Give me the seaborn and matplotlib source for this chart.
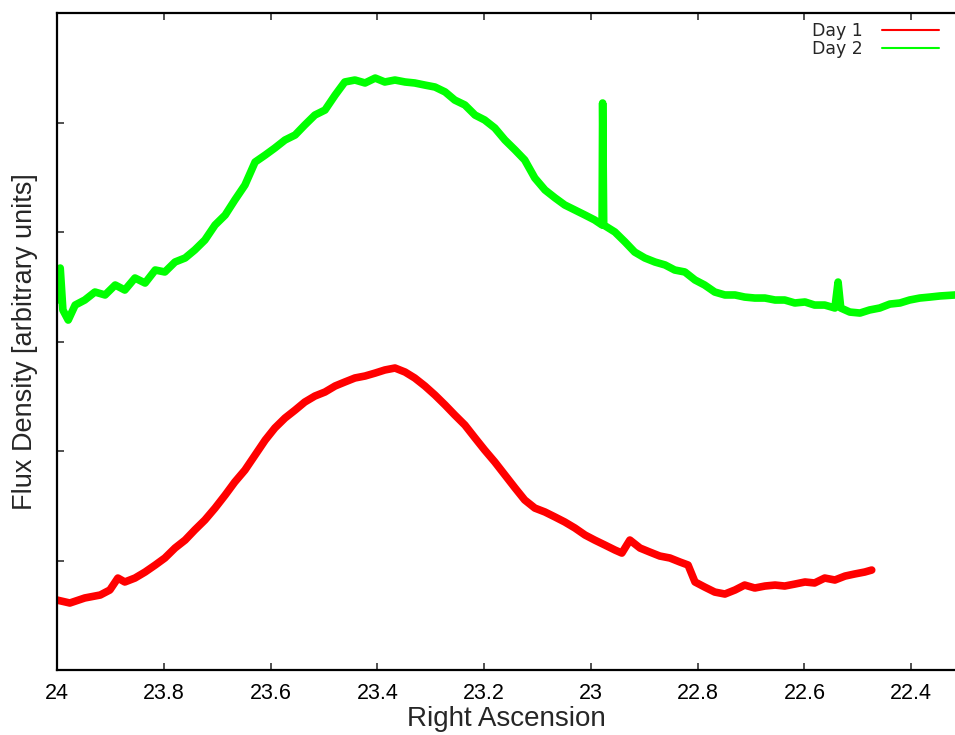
import pandas as pd
import matplotlib.pyplot as plt
import seaborn as sns

# ==========================================
# DATA (arbitrary units 0..6)
# ==========================================

ra_day1 = [24.000, 23.976, 23.948, 23.919, 23.901, 23.886, 23.873, 23.854, 23.835, 23.816,
           23.798, 23.779, 23.760, 23.742, 23.723, 23.704, 23.685, 23.667, 23.648, 23.629,
           23.610, 23.592, 23.573, 23.554, 23.536, 23.517, 23.498, 23.479, 23.461, 23.442,
           23.423, 23.404, 23.386, 23.367, 23.348, 23.330, 23.311, 23.292, 23.273, 23.255,
           23.236, 23.217, 23.199, 23.180, 23.161, 23.142, 23.124, 23.105, 23.086, 23.067,
           23.049, 23.030, 23.011, 22.993, 22.974, 22.955, 22.942, 22.927, 22.908, 22.890,
           22.871, 22.852, 22.833, 22.818, 22.805, 22.787, 22.768, 22.749, 22.730, 22.712,
           22.693, 22.674, 22.655, 22.637, 22.618, 22.599, 22.581, 22.562, 22.543, 22.524,
           22.506, 22.487, 22.474]
flux_day1 = [0.639, 0.612, 0.658, 0.685, 0.731, 0.840, 0.804, 0.840, 0.895, 0.959,
             1.023, 1.114, 1.187, 1.279, 1.370, 1.479, 1.598, 1.717, 1.826, 1.963,
             2.100, 2.210, 2.301, 2.374, 2.447, 2.502, 2.539, 2.594, 2.630, 2.667,
             2.685, 2.712, 2.740, 2.758, 2.721, 2.667, 2.594, 2.511, 2.420, 2.329,
             2.237, 2.119, 2.009, 1.900, 1.781, 1.662, 1.553, 1.479, 1.443, 1.397,
             1.352, 1.297, 1.233, 1.187, 1.142, 1.096, 1.068, 1.187, 1.114, 1.078,
             1.041, 1.023, 0.986, 0.959, 0.804, 0.758, 0.712, 0.694, 0.731, 0.776,
             0.749, 0.767, 0.776, 0.767, 0.785, 0.804, 0.795, 0.840, 0.822, 0.858,
             0.877, 0.895, 0.913]

ra_day2 = [24.000, 23.994, 23.989, 23.979, 23.966, 23.948, 23.929, 23.910, 23.891, 23.873,
           23.854, 23.835, 23.816, 23.798, 23.779, 23.760, 23.742, 23.723, 23.704, 23.685,
           23.667, 23.648, 23.629, 23.610, 23.592, 23.573, 23.554, 23.536, 23.517, 23.498,
           23.479, 23.461, 23.442, 23.423, 23.404, 23.386, 23.367, 23.348, 23.330, 23.311,
           23.292, 23.273, 23.255, 23.236, 23.217, 23.199, 23.180, 23.161, 23.142, 23.124,
           23.105, 23.086, 23.067, 23.049, 23.030, 23.011, 22.993, 22.979, 22.978, 22.976,
           22.955, 22.936, 22.918, 22.899, 22.880, 22.861, 22.843, 22.824, 22.805, 22.787,
           22.768, 22.749, 22.730, 22.712, 22.693, 22.674, 22.655, 22.637, 22.618, 22.599,
           22.581, 22.562, 22.543, 22.537, 22.532, 22.515, 22.496, 22.478, 22.459, 22.440,
           22.421, 22.403, 22.384, 22.365, 22.346, 22.318]
flux_day2 = [3.379, 3.671, 3.288, 3.196, 3.333, 3.379, 3.452, 3.425, 3.516, 3.470,
             3.580, 3.534, 3.653, 3.635, 3.726, 3.763, 3.836, 3.927, 4.064, 4.155,
             4.292, 4.429, 4.639, 4.703, 4.767, 4.840, 4.886, 4.977, 5.068, 5.114,
             5.251, 5.370, 5.388, 5.361, 5.406, 5.370, 5.388, 5.370, 5.361, 5.342,
             5.324, 5.279, 5.205, 5.160, 5.068, 5.023, 4.950, 4.840, 4.749, 4.658,
             4.493, 4.384, 4.311, 4.247, 4.201, 4.155, 4.110, 4.064, 5.178, 4.064,
             4.000, 3.909, 3.817, 3.763, 3.726, 3.699, 3.653, 3.635, 3.562, 3.516,
             3.452, 3.425, 3.425, 3.406, 3.397, 3.397, 3.379, 3.379, 3.352, 3.361,
             3.333, 3.333, 3.306, 3.543, 3.306, 3.269, 3.260, 3.288, 3.306, 3.342,
             3.352, 3.379, 3.397, 3.406, 3.416, 3.425]

series_labels = ["Day 1", "Day 2"]
series_colors = ["#ff0000", "#00ff00"]

df = pd.concat([
    pd.DataFrame({"ra": ra_day1, "flux": flux_day1, "day": "Day 1"}),
    pd.DataFrame({"ra": ra_day2, "flux": flux_day2, "day": "Day 2"}),
], ignore_index=True)

# ==========================================
# PLOT
# ==========================================

sns.set_style("ticks")
plt.rcParams["font.family"] = ["Liberation Sans", "DejaVu Sans"]

fig = plt.figure(figsize=(9.55, 7.35), dpi=100)
ax = fig.add_axes([0.0597, 0.0884, 0.9403, 0.8939])

sns.lineplot(data=df, x="ra", y="flux", hue="day", palette=series_colors,
             hue_order=series_labels, sort=False, estimator=None,
             linewidth=5.5, ax=ax, legend=False)

ax.set_xlim(24, 22.318)
ax.set_ylim(0, 6)
ax.set_xticks([24, 23.8, 23.6, 23.4, 23.2, 23, 22.8, 22.6, 22.4])
ax.set_xticklabels(["24", "23.8", "23.6", "23.4", "23.2", "23", "22.8", "22.6", "22.4"])
ax.set_yticks([1, 2, 3, 4, 5])
ax.set_yticklabels([])

ax.tick_params(axis="both", direction="in", length=5, width=1.2, colors="#333333",
               labelcolor="black", labelsize=15.5, pad=9, top=True)

for side in ["left", "bottom", "top"]:
    ax.spines[side].set_color("black")
    ax.spines[side].set_linewidth(1.6)
ax.spines["right"].set_visible(False)

ax.set_xlabel("Right Ascension", fontsize=20, labelpad=2)
ax.set_ylabel("Flux Density [arbitrary units]", fontsize=19.5)
ax.yaxis.set_label_coords(-0.021, 0.5)

# legend: label first, sample line after
handles = [plt.Line2D([], [], color=c, linewidth=1.5) for c in series_colors]
leg = ax.legend(handles, series_labels, loc="upper right", frameon=False,
                markerfirst=False, handlelength=3.3, handletextpad=1.1,
                labelspacing=0.0, borderaxespad=0.0,
                bbox_to_anchor=(0.990, 0.997),
                prop={"family": "DejaVu Sans", "size": 12.5})

fig.savefig("out.png", dpi=100)
